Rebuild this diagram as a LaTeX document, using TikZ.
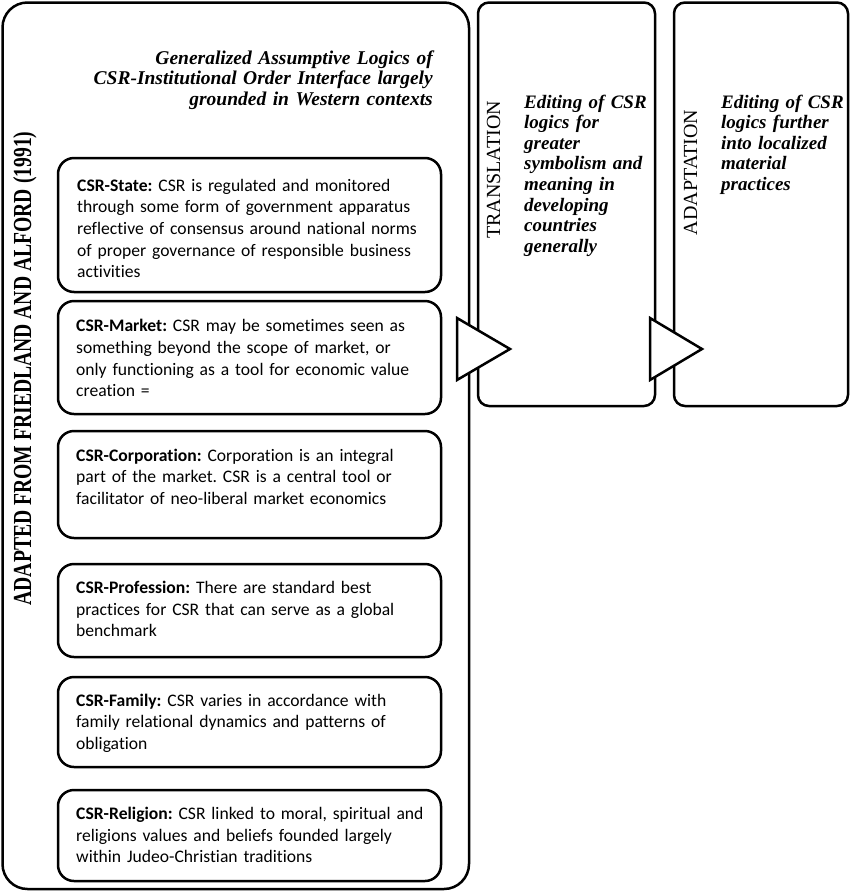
\documentclass[tikz,border=0pt]{standalone}
\usepackage{fontspec}
\setmainfont{Liberation Serif}
\newfontfamily\bodyfont[Ligatures=NoCommon]{Carlito}
\frenchspacing
\tikzset{
  boxline/.style={line width=2.5pt, rounded corners=#1},
  logictext/.style={anchor=base west, inner sep=0pt, text width=380pt, align=left, font=\bodyfont\fontsize{17.6}{21.7}\selectfont},
  stagetext/.style={anchor=base west, inner sep=0pt, text width=135pt, align=left, font=\bfseries\itshape\fontsize{19}{20.6}\selectfont},
  sidelabel/.style={rotate=90, anchor=base, inner sep=0pt, font=\fontsize{20}{22}\selectfont}
}
\begin{document}
\begin{tikzpicture}[x=1pt, y=-1pt]
    \useasboundingbox (0,0) rectangle (850,892);
    \draw[boxline=25pt] (2.5,2.5) rectangle (469,889);
    \draw[boxline=11pt] (478,2.5) rectangle (655,406);
    \draw[boxline=11pt] (674,2.5) rectangle (848,406);
    \draw[boxline=16pt] (58,158) rectangle (441,292);
    \draw[boxline=16pt] (58,301) rectangle (441,414);
    \draw[boxline=16pt] (58,431) rectangle (441,538);
    \draw[boxline=16pt] (58,564) rectangle (441,657);
    \draw[boxline=16pt] (58,677) rectangle (441,767);
    \draw[boxline=16pt] (58,790) rectangle (441,881);
    \filldraw[fill=white, line width=2.5pt] (457,318) -- (510,349) -- (457,380) -- cycle;
    \filldraw[fill=white, line width=2.5pt] (650,318) -- (702,349) -- (650,380) -- cycle;
    \node[rotate=90, xscale=0.755, anchor=base, inner sep=0pt, font=\bfseries\fontsize{26}{28}\selectfont] (source) at (31,368.5) {ADAPTED FROM FRIEDLAND AND ALFORD (1991)};
    \node[anchor=base east, inner sep=0pt, text width=345pt, align=right, font=\bfseries\itshape\fontsize{19.5}{20.5}\selectfont] (title) at (433,64) {Generalized Assumptive Logics of\\CSR-Institutional Order Interface largely\\grounded in Western contexts};
    \node[logictext] (state) at (77,191) {\textbf{CSR-State:} CSR is regulated and monitored\\through some form of government apparatus\\reflective of consensus around national norms\\of proper governance of responsible business\\activities};
    \node[logictext] (market) at (76,331.7) {\textbf{CSR-Market:} CSR may be sometimes seen as\\something beyond the scope of market, or\\only functioning as a tool for economic value\\creation =};
    \node[logictext] (corporation) at (76,461) {\textbf{CSR-Corporation:} Corporation is an integral\\part of the market. CSR is a central tool or\\facilitator of neo-liberal market economics};
    \node[logictext] (profession) at (76,593.3) {\textbf{CSR-Profession:} There are standard best\\practices for CSR that can serve as a global\\benchmark};
    \node[logictext] (family) at (76,706) {\textbf{CSR-Family:} CSR varies in accordance with\\family relational dynamics and patterns of\\obligation};
    \node[logictext] (religion) at (76,819.3) {\textbf{CSR-Religion:} CSR linked to moral, spiritual and\\religions values and beliefs founded largely\\within Judeo-Christian traditions};
    \node[sidelabel] (translation) at (500,170) {TRANSLATION};
    \node[sidelabel] (adaptation) at (697,172.5) {ADAPTATION};
    \node[stagetext] (translationtext) at (524,108) {Editing of CSR\\logics for\\greater\\symbolism and\\meaning in\\developing\\countries\\generally};
    \node[stagetext] (adaptationtext) at (721,108) {Editing of CSR\\logics further\\into localized\\material\\practices};
\end{tikzpicture}
\end{document}
